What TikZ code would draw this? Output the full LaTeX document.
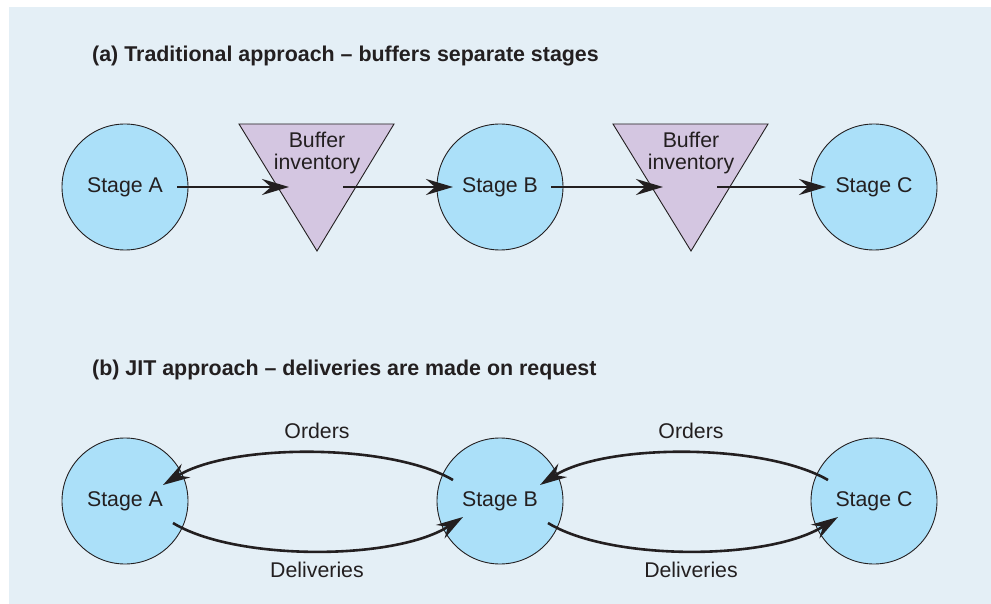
\documentclass[tikz,border=0pt]{standalone}
\usepackage{fontspec}
\setmainfont{Liberation Sans}
\usetikzlibrary{arrows.meta,calc}
\definecolor{bgblue}{HTML}{E4EFF6}
\definecolor{stageblue}{HTML}{ABE0F9}
\definecolor{buflav}{HTML}{D4C6E1}
\definecolor{ink}{HTML}{231F20}
\tikzset{
  stage/.style={circle, draw=ink, line width=0.9pt, fill=stageblue, minimum size=126pt, inner sep=0pt, text=ink, font=\fontsize{21.3}{24}\selectfont},
  bufshape/.style={draw=ink, line width=0.9pt, fill=buflav},
  buftext/.style={align=center, text=ink, font=\fontsize{21.3}{22.5}\selectfont, inner sep=0pt},
  flow/.style={draw=ink, line width=2.6pt, -{Stealth[length=27pt, width=16pt, inset=9pt]}},
  lbl/.style={text=ink, font=\fontsize{21.3}{24}\selectfont, inner sep=0pt},
  ttl/.style={text=ink, font=\bfseries\fontsize{21.4}{24}\selectfont, inner sep=0pt, anchor=base west}
}
\begin{document}
\begin{tikzpicture}[x=1pt, y=-1pt]
\useasboundingbox (0,0) rectangle (991,604);
\fill[bgblue] (9,7) rectangle (991,604);

% titles
\node[ttl] (ta) at (92,62) {(a) Traditional approach – buffers separate stages};
\node[ttl] (tb) at (92,375) {(b) JIT approach – deliveries are made on request};

% top row
\node[stage] (A1) at (125,187) {Stage A};
\node[stage] (B1) at (500,187) {Stage B};
\node[stage] (C1) at (874,187) {Stage C};
\coordinate (T1) at (317,187);
\coordinate (T2) at (691,187);
\draw[bufshape] ($(T1)+(-78,-63)$) -- ($(T1)+(77,-63)$) -- ($(T1)+(0,64)$) -- cycle;
\draw[bufshape] ($(T2)+(-78,-63)$) -- ($(T2)+(77,-63)$) -- ($(T2)+(0,64)$) -- cycle;
\node[buftext] (bt1) at ($(T1)+(0,-34)$) {Buffer\\inventory};
\node[buftext] (bt2) at ($(T2)+(0,-34)$) {Buffer\\inventory};

\draw[flow] ($(A1)+(52,0)$) -- ($(T1)+(-28,0)$);
\draw[flow] ($(T1)+(26,0)$) -- ($(B1)+(-47,0)$);
\draw[flow] ($(B1)+(51,0)$) -- ($(T2)+(-28,0)$);
\draw[flow] ($(T2)+(26,0)$) -- ($(C1)+(-48,0)$);

% bottom row
\node[stage] (A2) at (125,501) {Stage A};
\node[stage] (B2) at (500,501) {Stage B};
\node[stage] (C2) at (874,501) {Stage C};

\draw[flow] ($(B2)+(-47,-21)$) .. controls ($(B2)+(-110,-58)$) and ($(A2)+(105,-58)$) .. ($(A2)+(38,-16)$);
\draw[flow] ($(A2)+(48,22)$) .. controls ($(A2)+(110,60)$) and ($(B2)+(-105,60)$) .. ($(B2)+(-37,16)$);
\draw[flow] ($(C2)+(-46,-21)$) .. controls ($(C2)+(-110,-58)$) and ($(B2)+(105,-58)$) .. ($(B2)+(40,-16)$);
\draw[flow] ($(B2)+(48,22)$) .. controls ($(B2)+(110,60)$) and ($(C2)+(-105,60)$) .. ($(C2)+(-36,16)$);

\node[lbl] (o1) at (317,431) {Orders};
\node[lbl] (d1) at (317,570) {Deliveries};
\node[lbl] (o2) at (691,431) {Orders};
\node[lbl] (d2) at (691,570) {Deliveries};
\end{tikzpicture}
\end{document}
